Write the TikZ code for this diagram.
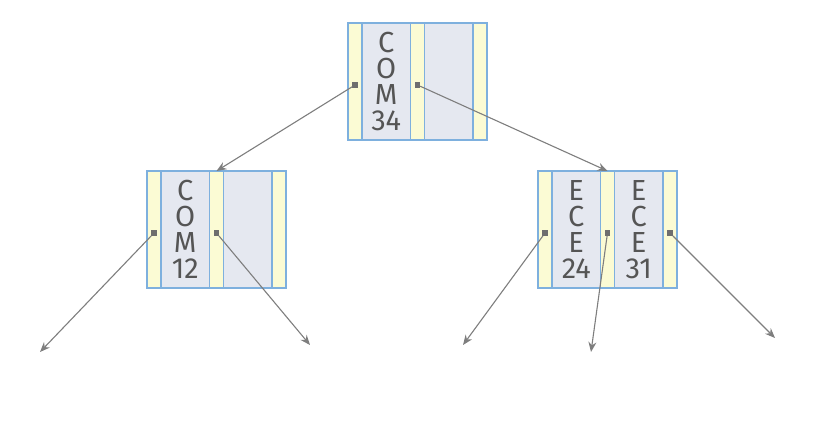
\documentclass[tikz,border=0pt]{standalone}
\usepackage{fontspec}
\setsansfont{Fira Sans}
\usetikzlibrary{positioning,arrows.meta}
\definecolor{stripfill}{HTML}{FBFBD4}
\definecolor{keyfill}{HTML}{E5E8F0}
\definecolor{cellline}{HTML}{7EB0DE}
\definecolor{keytext}{HTML}{555555}
\definecolor{linkgray}{HTML}{7E7E7E}
\definecolor{dotgray}{HTML}{6E6E6E}

\begin{document}
\begin{tikzpicture}[x=1pt,y=-1pt,>={Stealth[length=10pt,width=8pt]},line cap=round,
		cell/.style={draw=cellline,line width=1.2pt,minimum height=117pt,inner sep=0pt,outer sep=0pt},
		strip/.style={cell,fill=stripfill,minimum width=14pt},
		keycell/.style={cell,fill=keyfill,minimum width=48.5pt,text=keytext,
			font=\sffamily\fontsize{29}{26}\selectfont,align=center},
		dot/.style={rectangle,inner sep=0pt,minimum size=5.5pt,fill=dotgray},
		link/.style={draw=linkgray,line width=1.1pt,->}]
		\useasboundingbox (0,0) rectangle (814,426);
		%\draw[help lines] (0,0) grid[step=50] (814,426);
		\foreach \N/\X/\Y/\A/\B in {root/348/23/{C\\O\\M\\34}/{},
			lft/147/171/{C\\O\\M\\12}/{},
			rgt/538/171/{E\\C\\E\\24}/{E\\C\\E\\31}}
		{\node[strip,anchor=north west] (\N-p1) at (\X,\Y) {};
			\node[keycell,right=0pt of \N-p1] (\N-k1) {\A};
			\node[strip,right=0pt of \N-k1] (\N-p2) {};
			\node[keycell,right=0pt of \N-p2] (\N-k2) {\B};
			\node[strip,right=0pt of \N-k2] (\N-p3) {};}
		\foreach \N/\P in {root/1,root/2,lft/1,lft/2,rgt/1,rgt/2,rgt/3}
		{\node[dot] (\N-d\P) at ([yshift=-3.5pt]\N-p\P.center) {};}
		\foreach \X [count=\Y] in {(40,352),(310,345),(463,345),(591,352),(775,338)}
		{\path \X coordinate (e\Y);}
		\draw[link] (root-d1) -- (lft-p2.north);
		\draw[link] (root-d2) -- (rgt-p2.north);
		\draw[link] (lft-d1) -- (e1);
		\draw[link] (lft-d2) -- (e2);
		\draw[link] (rgt-d1) -- (e3);
		\draw[link] (rgt-d2) -- (e4);
		\draw[link] (rgt-d3) -- (e5);
\end{tikzpicture}
\end{document}
